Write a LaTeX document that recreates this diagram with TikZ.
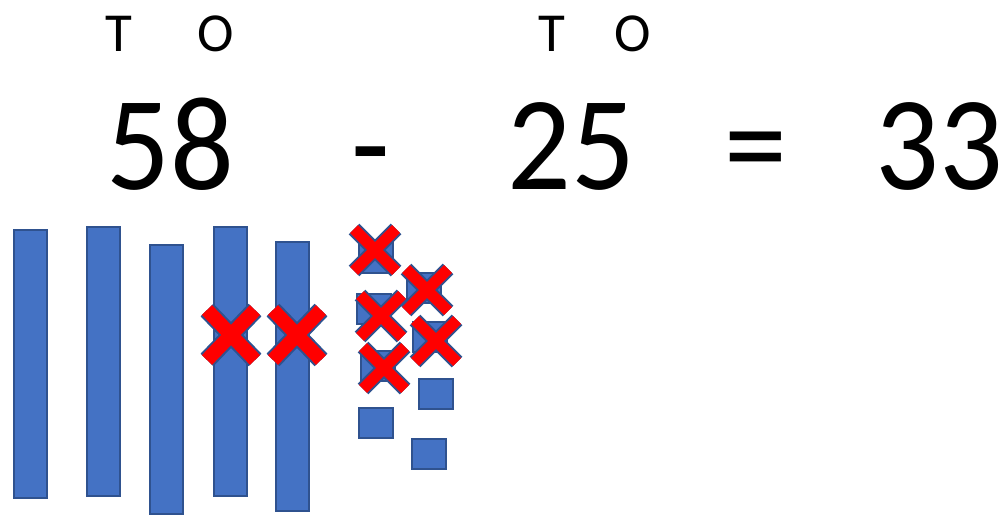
\documentclass[tikz,border=0pt]{standalone}
\usepackage{fontspec}
\setmainfont{Carlito}
\newfontfamily\narrowfont[FakeStretch=0.94]{Carlito}
\definecolor{barblue}{HTML}{4472C4}
\definecolor{edgeblue}{HTML}{2F528F}
\definecolor{xred}{HTML}{FF0000}
\begin{document}
\begin{tikzpicture}[x=1pt,y=-1pt,
  block/.style={fill=barblue,draw=edgeblue,line width=1.8pt},
  big/.style={font=\narrowfont\fontsize{134}{134}\selectfont,anchor=base,inner sep=0pt},
  small/.style={font=\fontsize{55}{55}\selectfont,anchor=base,inner sep=0pt}]
\useasboundingbox (0,0) rectangle (1004,518);
% labels
\node[small] (t1) at (119,52) {T};
\node[small] (o1) at (216,52) {O};
\node[small] (t2) at (552,52) {T};
\node[small] (o2) at (633,52) {O};
\node[big] (n58) at (170,190) {58};
\node[big] (minus) at (371,190) {-};
\node[big] (n25) at (571,190) {25};
\node[big] (eq) at (756,190) {=};
\node[big] (n33) at (939,190) {33};
% tens bars
\draw[block] (14,230) rectangle (47,498);
\draw[block] (87,227) rectangle (120,496);
\draw[block] (150,245) rectangle (183,514);
\draw[block] (214,227) rectangle (247,496);
\draw[block] (276,242) rectangle (309,511);
% big crosses
\foreach \cx in {231,297}{
  \draw[edgeblue,line width=18pt] (\cx-24,310) -- (\cx+24,360) (\cx+24,310) -- (\cx-24,360);
  \draw[xred,line width=14pt] (\cx-24,310) -- (\cx+24,360) (\cx+24,310) -- (\cx-24,360);
}
% ones squares
\foreach \sx/\sy in {359/243, 407/273, 357/294, 413/322, 361/351, 419/379, 359/408, 412/439}{
  \draw[block] (\sx,\sy) rectangle ++(34,30);
}
% small crosses
\foreach \cx/\cy in {375/250, 427/290, 381/316, 436/341, 384/368}{
  \draw[edgeblue,line width=15pt] (\cx-21,\cy-21) -- (\cx+21,\cy+21) (\cx+21,\cy-21) -- (\cx-21,\cy+21);
  \draw[xred,line width=11pt] (\cx-21,\cy-21) -- (\cx+21,\cy+21) (\cx+21,\cy-21) -- (\cx-21,\cy+21);
}
\end{tikzpicture}
\end{document}
